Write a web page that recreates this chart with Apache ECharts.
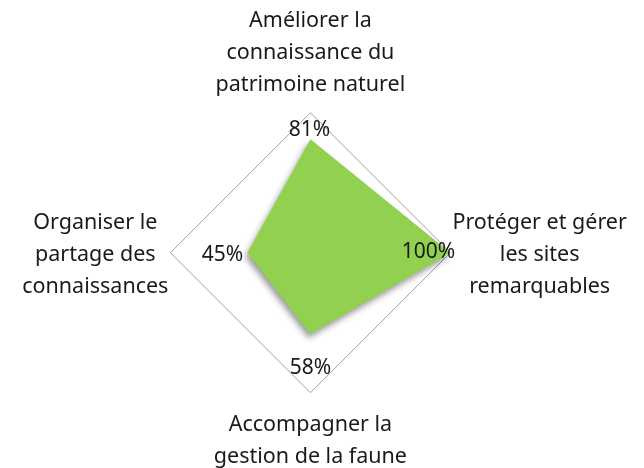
<!DOCTYPE html>
<html lang="fr">
<head>
    <meta charset="UTF-8">
    <title>Radar</title>
    <script src="https://cdn.jsdelivr.net/npm/echarts@6/dist/echarts.min.js"></script>
</head>
<body style="margin:0;background:#fff">
<div id="main" style="width:644px;height:468px;"></div>
<script>
    // indicateurs dans l'ordre de la radar (sens anti-horaire depuis le haut)
    const axes = [
        'Améliorer la\nconnaissance du\npatrimoine naturel',
        'Organiser le\npartage des\nconnaissances',
        'Accompagner la\ngestion de la faune',
        'Protéger et gérer\nles sites\nremarquables'
    ];
    const values = [81, 45, 58, 100];
    const maxValue = 100;

    // décalage des étiquettes de valeur (px) pour chaque sommet
    const labelOffsets = [[-1, -9], [-25, 2], [0, 34], [-22, -1]];

    const font = 'Noto Sans';
    let series = [{
        type: 'radar',
        symbol: 'none',
        lineStyle: {width: 0},
        areaStyle: {
            color: '#92D050',
            opacity: 1,
            shadowBlur: 6,
            shadowOffsetX: -2,
            shadowOffsetY: 4,
            shadowColor: 'rgba(0,0,0,0.4)'
        },
        data: [{value: values}]
    }];
    // une série invisible par sommet pour placer son étiquette
    for (let i = 0; i < values.length; i++) {
        series.push({
            type: 'radar',
            symbol: 'circle',
            symbolSize: 1,
            itemStyle: {color: 'rgba(0,0,0,0)'},
            lineStyle: {width: 0, opacity: 0},
            silent: true,
            label: {
                show: true,
                position: 'inside',
                offset: labelOffsets[i],
                color: '#1a1a1a',
                fontFamily: font,
                fontSize: 21,
                formatter: function (p) {
                    return p.value === values[i] ? p.value + '%' : '';
                }
            },
            data: [{value: values}]
        });
    }

    let myChart = echarts.init(document.getElementById('main'));
    let option = {
        animation: false,
        radar: {
            center: ['48.2%', '54%'],
            radius: 140,
            shape: 'polygon',
            splitNumber: 1,
            nameGap: 2,
            indicator: axes.map(function (n) { return {name: n, max: maxValue, min: 0}; }),
            axisName: {
                color: '#1a1a1a',
                fontFamily: font,
                fontSize: 21.5,
                lineHeight: 32,
                padding: [14, 0, 10, 0],
                formatter: function (name) {
                    return name.split('\n').map(function (l) { return '{c|' + l + '}'; }).join('\n');
                },
                rich: {
                    c: {align: 'center', fontFamily: font, fontSize: 21.5, lineHeight: 32, color: '#1a1a1a'}
                }
            },
            axisLine: {show: false},
            axisTick: {show: false},
            axisLabel: {show: false},
            splitArea: {show: false},
            splitLine: {lineStyle: {color: '#a0a0a0', width: 1}}
        },
        series: series
    };
    myChart.setOption(option);
</script>
</body>
</html>
